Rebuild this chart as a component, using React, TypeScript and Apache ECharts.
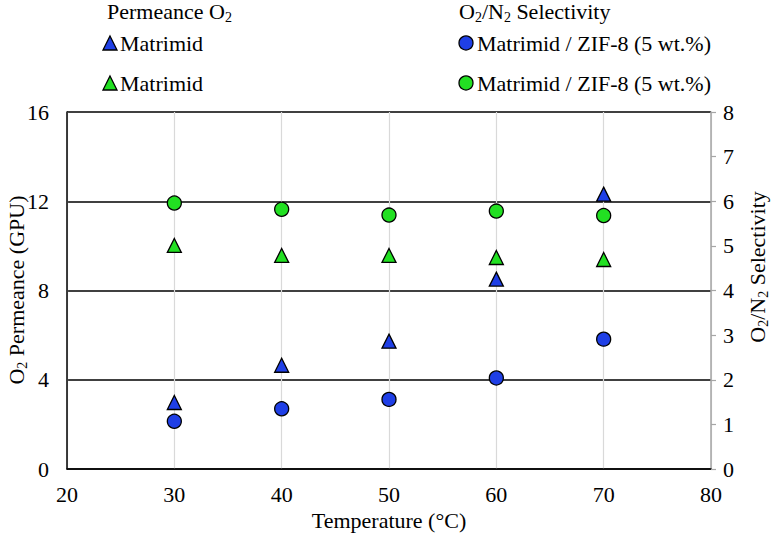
import React, { useEffect, useRef } from "react";
import * as echarts from "echarts";

const temperatures = [30, 40, 50, 60, 70];
const permeanceBlue = [2.98, 4.65, 5.73, 8.51, 12.32];
const permeanceGreen = [10.02, 9.57, 9.57, 9.48, 9.39];
const selectivityBlue = [1.07, 1.35, 1.56, 2.04, 2.91];
const selectivityGreen = [5.96, 5.82, 5.69, 5.78, 5.68];

const FONT = "Liberation Serif";
const BLUE = "#1f3fe6";
const GREEN = "#22e022";

const pairs = (ys: number[]) => temperatures.map((t, i) => [t, ys[i]]);

const richBase = {
  a: { fontSize: 22, fontFamily: FONT, color: "#000", lineHeight: 26 },
  s: { fontSize: 14, fontFamily: FONT, color: "#000", lineHeight: 14, verticalAlign: "bottom" },
};

export default function App() {
  const ref = useRef<HTMLDivElement>(null);
  useEffect(() => {
    if (!ref.current) return;
    document.body.style.margin = "0";
    const chart = echarts.init(ref.current, undefined, { renderer: "svg" });
    const textEl = (text: string, x: number, y: number, extra: any = {}) => ({
      type: "text",
      x,
      y,
      ...extra,
      style: {
        text,
        rich: richBase,
        fontSize: 22,
        fontFamily: FONT,
        fill: "#000",
        align: extra.align || "left",
        verticalAlign: "middle",
      },
    });
    const tri = (cx: number, cy: number, color: string) => ({
      type: "polygon",
      shape: { points: [[cx, cy - 7], [cx + 7, cy + 7], [cx - 7, cy + 7]] },
      style: { fill: color, stroke: "#000", lineWidth: 1.3 },
    });
    const circ = (cx: number, cy: number, color: string) => ({
      type: "circle",
      shape: { cx, cy, r: 7 },
      style: { fill: color, stroke: "#000", lineWidth: 1.3 },
    });
    const labelStyle = { fontSize: 22, fontFamily: FONT, color: "#000" };
    chart.setOption({
      animation: false,
      backgroundColor: "#fff",
      textStyle: { fontFamily: FONT },
      grid: { left: 67, right: 62, top: 112, bottom: 70 },
      xAxis: {
        type: "value",
        min: 20,
        max: 80,
        interval: 10,
        axisLine: { show: true, onZero: false, lineStyle: { color: "#000", width: 1.5 } },
        axisTick: { show: false },
        axisLabel: { ...labelStyle, margin: 14 },
        splitLine: { show: true, lineStyle: { color: "#d9d9d9", width: 1.2 } },
      },
      yAxis: [
        {
          type: "value",
          min: 0,
          max: 16,
          interval: 4,
          position: "left",
          axisLine: { show: true, lineStyle: { color: "#000", width: 1.5 } },
          axisTick: { show: false },
          axisLabel: { ...labelStyle, margin: 18 },
          splitLine: { show: true, lineStyle: { color: "#000", width: 1.5 } },
        },
        {
          type: "value",
          min: 0,
          max: 8,
          interval: 1,
          position: "right",
          axisLine: { show: true, lineStyle: { color: "#a6a6a6", width: 1.5 } },
          axisTick: { show: true, inside: false, length: 5, lineStyle: { color: "#a6a6a6", width: 1.2 } },
          axisLabel: { ...labelStyle, margin: 12 },
          splitLine: { show: false },
        },
      ],
      series: [
        {
          name: "Permeance Matrimid (blue)",
          type: "scatter",
          yAxisIndex: 0,
          symbol: "triangle",
          symbolSize: 14,
          itemStyle: { color: BLUE, borderColor: "#000", borderWidth: 1.3, opacity: 1 },
          data: pairs(permeanceBlue),
        },
        {
          name: "Permeance Matrimid (green)",
          type: "scatter",
          yAxisIndex: 0,
          symbol: "triangle",
          symbolSize: 14,
          itemStyle: { color: GREEN, borderColor: "#000", borderWidth: 1.3, opacity: 1 },
          data: pairs(permeanceGreen),
        },
        {
          name: "Selectivity Matrimid / ZIF-8 (blue)",
          type: "scatter",
          yAxisIndex: 1,
          symbol: "circle",
          symbolSize: 14,
          itemStyle: { color: BLUE, borderColor: "#000", borderWidth: 1.3, opacity: 1 },
          data: pairs(selectivityBlue),
        },
        {
          name: "Selectivity Matrimid / ZIF-8 (green)",
          type: "scatter",
          yAxisIndex: 1,
          symbol: "circle",
          symbolSize: 14,
          itemStyle: { color: GREEN, borderColor: "#000", borderWidth: 1.3, opacity: 1 },
          data: pairs(selectivityGreen),
        },
      ],
      graphic: [
        textEl("{a|Permeance O}{s|2}", 107, 11),
        textEl("{a|O}{s|2}{a|/N}{s|2}{a| Selectivity}", 459, 11),
        tri(110, 43, BLUE),
        textEl("{a|Matrimid}", 120, 43),
        tri(110, 83, GREEN),
        textEl("{a|Matrimid}", 120, 83),
        circ(466, 43, BLUE),
        textEl("{a|Matrimid / ZIF-8 (5 wt.%)}", 477, 43),
        circ(466, 83, GREEN),
        textEl("{a|Matrimid / ZIF-8 (5 wt.%)}", 477, 83),
        textEl("{a|Temperature (°C)}", 389, 520, { align: "center" }),
        textEl("{a|O}{s|2}{a| Permeance (GPU)}", 16, 290, { align: "center", rotation: Math.PI / 2 }),
        textEl("{a|O}{s|2}{a|/N}{s|2}{a| Selectivity}", 757, 267, { align: "center", rotation: Math.PI / 2 }),
      ],
    });
    return () => chart.dispose();
  }, []);
  return (
    <>
      <style>{`.chartbox text, .chartbox tspan { font-family: "Liberation Serif", "Times New Roman", serif !important; }`}</style>
      <div className="chartbox" ref={ref} style={{ width: 773, height: 539 }} />
    </>
  );
}
